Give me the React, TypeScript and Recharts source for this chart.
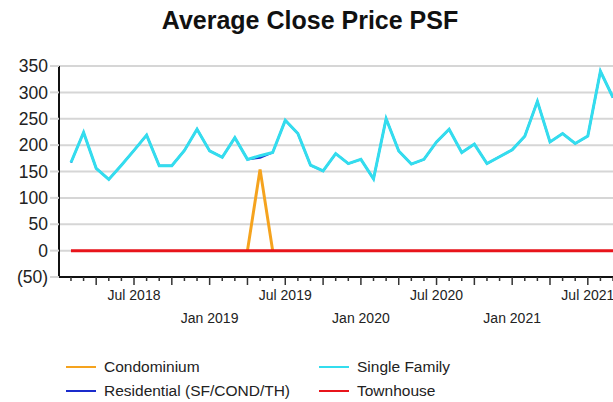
import React from 'react';
import { LineChart, Line, XAxis, YAxis, CartesianGrid } from 'recharts';

const months: string[] = [
  'Feb 2018', 'Mar 2018', 'Apr 2018', 'May 2018', 'Jun 2018', 'Jul 2018', 'Aug 2018', 'Sep 2018', 'Oct 2018', 'Nov 2018', 'Dec 2018',
  'Jan 2019', 'Feb 2019', 'Mar 2019', 'Apr 2019', 'May 2019', 'Jun 2019', 'Jul 2019', 'Aug 2019', 'Sep 2019', 'Oct 2019', 'Nov 2019', 'Dec 2019',
  'Jan 2020', 'Feb 2020', 'Mar 2020', 'Apr 2020', 'May 2020', 'Jun 2020', 'Jul 2020', 'Aug 2020', 'Sep 2020', 'Oct 2020', 'Nov 2020', 'Dec 2020',
  'Jan 2021', 'Feb 2021', 'Mar 2021', 'Apr 2021', 'May 2021', 'Jun 2021', 'Jul 2021', 'Aug 2021', 'Sep 2021',
];

const singleFamily: number[] = [
  167, 224, 156, 135, 162, 190, 219, 161, 161, 190, 230,
  189, 177, 214, 173, 180, 186, 247, 222, 162, 151, 184, 165,
  173, 136, 250, 189, 164, 173, 206, 230, 186, 202, 165, 178,
  191, 217, 283, 206, 222, 203, 217, 340, 290,
];

// same as single family except the one month that had a condo sale
const residential: number[] = singleFamily.map((v, i) => (i === 15 ? 176 : v));

const condominium: (number | null)[] = months.map((_, i) =>
  i === 14 ? 0 : i === 15 ? 154 : i === 16 ? 0 : null
);

const townhouse: number[] = months.map(() => 0);

const yTicks = [-50, 0, 50, 100, 150, 200, 250, 300, 350];

const data = months.map((m, i) => ({
  i,
  month: m,
  condo: condominium[i],
  sf: singleFamily[i],
  res: residential[i],
  th: townhouse[i],
}));

const FONT = '"Liberation Sans", Arial, sans-serif';

const COLORS = {
  condo: '#F5A31E',
  sf: '#33DDEE',
  res: '#1A2BCC',
  th: '#E8141B',
};

const MonthTick = (props: any) => {
  const { x, y, payload } = props;
  const label = months[payload.value];
  if (!label) return null;
  const mon = label.slice(0, 3);
  const major = mon === 'Jan' || mon === 'Apr' || mon === 'Jul' || mon === 'Oct';
  return (
    <g>
      <line x1={x} x2={x} y1={y} y2={y + (major ? 8 : 4)} stroke="#333" strokeWidth={1.5} />
      {(mon === 'Jul' || mon === 'Jan') && (
        <text
          x={x}
          y={y + (mon === 'Jul' ? 18 : 41)}
          textAnchor="middle"
          dominantBaseline="central"
          fontSize={14}
          fontFamily={FONT}
          fill="#222"
        >
          {label}
        </text>
      )}
    </g>
  );
};

const legendItems = [
  { name: 'Condominium', color: COLORS.condo, x: 66, y: 367 },
  { name: 'Residential (SF/COND/TH)', color: COLORS.res, x: 66, y: 391 },
  { name: 'Single Family', color: COLORS.sf, x: 319, y: 367 },
  { name: 'Townhouse', color: COLORS.th, x: 319, y: 391 },
];

export default function App() {
  return (
    <div
      style={{
        position: 'absolute',
        left: 0,
        top: 0,
        width: 613,
        height: 402,
        overflow: 'hidden',
        background: '#fff',
        fontFamily: FONT,
      }}
    >
      <div
        style={{
          position: 'absolute',
          left: 0,
          top: 6,
          width: 620,
          textAlign: 'center',
          fontSize: 25,
          lineHeight: '28px',
          fontWeight: 'bold',
          color: '#111',
        }}
      >
        Average Close Price PSF
      </div>
      <LineChart
        width={640}
        height={402}
        data={data}
        margin={{ top: 66, right: 15, left: 0, bottom: 65 }}
      >
        <CartesianGrid horizontal vertical={false} stroke="#d6d6d6" strokeWidth={2} />
        <XAxis
          type="number"
          dataKey="i"
          domain={[-0.95, 43.95]}
          ticks={months.map((_, i) => i)}
          interval={0}
          height={60}
          tickSize={0}
          tickMargin={0}
          tickLine={false}
          axisLine={{ stroke: '#111', strokeWidth: 2 }}
          tick={<MonthTick />}
        />
        <YAxis
          width={59}
          domain={[-50, 350]}
          ticks={yTicks}
          interval={0}
          tickSize={9}
          tickMargin={2}
          tickLine={{ stroke: '#d6d6d6', strokeWidth: 2 }}
          axisLine={{ stroke: '#111', strokeWidth: 2 }}
          tick={{ fill: '#222', fontSize: 17.5, fontFamily: FONT }}
          tickFormatter={(v: number) => (v < 0 ? `(${Math.abs(v)})` : `${v}`)}
        />
        <Line dataKey="res" stroke={COLORS.res} strokeWidth={2} dot={false} isAnimationActive={false} name="Residential (SF/COND/TH)" />
        <Line dataKey="sf" stroke={COLORS.sf} strokeWidth={3} dot={false} isAnimationActive={false} name="Single Family" />
        <Line dataKey="condo" stroke={COLORS.condo} strokeWidth={3} dot={false} isAnimationActive={false} name="Condominium" />
        <Line dataKey="th" stroke={COLORS.th} strokeWidth={3} dot={false} isAnimationActive={false} name="Townhouse" />
      </LineChart>
      {legendItems.map((it) => (
        <div
          key={it.name}
          style={{
            position: 'absolute',
            left: it.x,
            top: it.y - 10,
            height: 20,
            display: 'flex',
            alignItems: 'center',
            fontSize: 15.5,
            color: '#222',
            whiteSpace: 'nowrap',
          }}
        >
          <span style={{ display: 'inline-block', width: 30, height: 2.5, background: it.color, marginRight: 8 }} />
          {it.name}
        </div>
      ))}
    </div>
  );
}
